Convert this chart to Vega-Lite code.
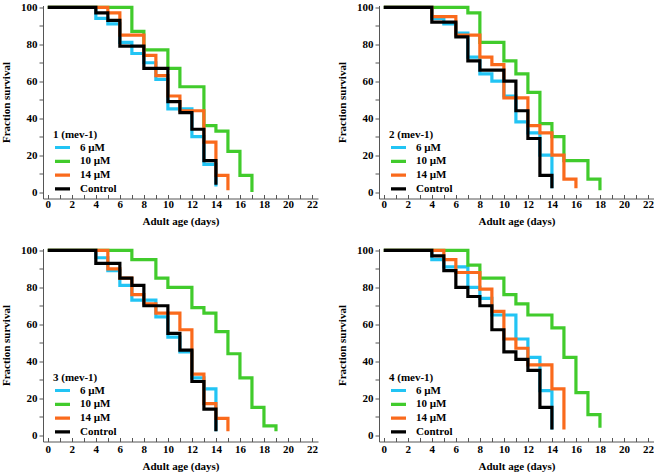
{
  "$schema": "https://vega.github.io/schema/vega-lite/v6.json",
  "padding": {"left": 0, "top": 0.5, "right": 0, "bottom": 0},
  "background": "white",
  "config": {
    "font": "Liberation Serif",
    "view": {"stroke": null},
    "axis": {
      "labelFont": "Liberation Serif", "labelFontWeight": "bold", "labelFontSize": 11, "labelColor": "#000",
      "titleFont": "Liberation Serif", "titleFontWeight": "bold", "titleFontSize": 11, "titleColor": "#000",
      "domainColor": "#555", "tickColor": "#555", "grid": false
    },
    "legend": {
      "labelFont": "Liberation Serif", "labelFontWeight": "bold", "labelFontSize": 11, "labelColor": "#000",
      "titleFont": "Liberation Serif", "titleFontWeight": "bold", "titleFontSize": 11, "titleColor": "#000",
      "symbolType": "stroke", "symbolStrokeWidth": 3.5, "symbolSize": 225, "clipHeight": 11, "rowPadding": 1.8, "titlePadding": 2, "labelOffset": 8,
      "orient": "none", "legendX": 10, "legendY": 123.5
    },
    "line": {"strokeWidth": 3.2, "interpolate": "step-after"}
  },
  "data": {"values": [
    {"p":1,"g":"6 µM","d":0,"s":100},{"p":1,"g":"6 µM","d":4,"s":94},{"p":1,"g":"6 µM","d":5,"s":91},{"p":1,"g":"6 µM","d":6,"s":81},{"p":1,"g":"6 µM","d":7,"s":75},{"p":1,"g":"6 µM","d":8,"s":70},{"p":1,"g":"6 µM","d":9,"s":61},{"p":1,"g":"6 µM","d":10,"s":45},{"p":1,"g":"6 µM","d":12,"s":30},{"p":1,"g":"6 µM","d":13,"s":15},{"p":1,"g":"6 µM","d":14,"s":3},
    {"p":1,"g":"10 µM","d":0,"s":100},{"p":1,"g":"10 µM","d":7,"s":87},{"p":1,"g":"10 µM","d":8,"s":77},{"p":1,"g":"10 µM","d":10,"s":67},{"p":1,"g":"10 µM","d":11,"s":57},{"p":1,"g":"10 µM","d":13,"s":36},{"p":1,"g":"10 µM","d":14,"s":33},{"p":1,"g":"10 µM","d":15,"s":22},{"p":1,"g":"10 µM","d":16,"s":9},{"p":1,"g":"10 µM","d":17,"s":0},
    {"p":1,"g":"14 µM","d":0,"s":100},{"p":1,"g":"14 µM","d":5,"s":97},{"p":1,"g":"14 µM","d":6,"s":85},{"p":1,"g":"14 µM","d":8,"s":74},{"p":1,"g":"14 µM","d":9,"s":63},{"p":1,"g":"14 µM","d":10,"s":52},{"p":1,"g":"14 µM","d":11,"s":44},{"p":1,"g":"14 µM","d":13,"s":27},{"p":1,"g":"14 µM","d":14,"s":9},{"p":1,"g":"14 µM","d":15,"s":1},
    {"p":1,"g":"Control","d":0,"s":100},{"p":1,"g":"Control","d":4,"s":97},{"p":1,"g":"Control","d":5,"s":93},{"p":1,"g":"Control","d":6,"s":79},{"p":1,"g":"Control","d":8,"s":67},{"p":1,"g":"Control","d":10,"s":49},{"p":1,"g":"Control","d":11,"s":43},{"p":1,"g":"Control","d":12,"s":34},{"p":1,"g":"Control","d":13,"s":17},{"p":1,"g":"Control","d":14,"s":4},

    {"p":2,"g":"6 µM","d":0,"s":100},{"p":2,"g":"6 µM","d":4,"s":94},{"p":2,"g":"6 µM","d":5,"s":91},{"p":2,"g":"6 µM","d":6,"s":86},{"p":2,"g":"6 µM","d":7,"s":73},{"p":2,"g":"6 µM","d":8,"s":64},{"p":2,"g":"6 µM","d":9,"s":60},{"p":2,"g":"6 µM","d":10,"s":52},{"p":2,"g":"6 µM","d":11,"s":38},{"p":2,"g":"6 µM","d":12,"s":32},{"p":2,"g":"6 µM","d":13,"s":20},{"p":2,"g":"6 µM","d":14,"s":2},
    {"p":2,"g":"10 µM","d":0,"s":100},{"p":2,"g":"10 µM","d":7,"s":97},{"p":2,"g":"10 µM","d":8,"s":81},{"p":2,"g":"10 µM","d":10,"s":71},{"p":2,"g":"10 µM","d":11,"s":64},{"p":2,"g":"10 µM","d":12,"s":54},{"p":2,"g":"10 µM","d":13,"s":37},{"p":2,"g":"10 µM","d":14,"s":30},{"p":2,"g":"10 µM","d":15,"s":17},{"p":2,"g":"10 µM","d":17,"s":7},{"p":2,"g":"10 µM","d":18,"s":1},
    {"p":2,"g":"14 µM","d":0,"s":100},{"p":2,"g":"14 µM","d":4,"s":95},{"p":2,"g":"14 µM","d":6,"s":85},{"p":2,"g":"14 µM","d":8,"s":73},{"p":2,"g":"14 µM","d":9,"s":69},{"p":2,"g":"14 µM","d":10,"s":51},{"p":2,"g":"14 µM","d":12,"s":36},{"p":2,"g":"14 µM","d":13,"s":32},{"p":2,"g":"14 µM","d":14,"s":20},{"p":2,"g":"14 µM","d":15,"s":7},{"p":2,"g":"14 µM","d":16,"s":2},
    {"p":2,"g":"Control","d":0,"s":100},{"p":2,"g":"Control","d":4,"s":92},{"p":2,"g":"Control","d":6,"s":84},{"p":2,"g":"Control","d":7,"s":71},{"p":2,"g":"Control","d":8,"s":66},{"p":2,"g":"Control","d":10,"s":60},{"p":2,"g":"Control","d":11,"s":44},{"p":2,"g":"Control","d":12,"s":29},{"p":2,"g":"Control","d":13,"s":9},{"p":2,"g":"Control","d":14,"s":2},

    {"p":3,"g":"6 µM","d":0,"s":100},{"p":3,"g":"6 µM","d":4,"s":96},{"p":3,"g":"6 µM","d":5,"s":89},{"p":3,"g":"6 µM","d":6,"s":81},{"p":3,"g":"6 µM","d":7,"s":73},{"p":3,"g":"6 µM","d":9,"s":64},{"p":3,"g":"6 µM","d":10,"s":53},{"p":3,"g":"6 µM","d":11,"s":45},{"p":3,"g":"6 µM","d":12,"s":31},{"p":3,"g":"6 µM","d":13,"s":25},{"p":3,"g":"6 µM","d":14,"s":2},
    {"p":3,"g":"10 µM","d":0,"s":100},{"p":3,"g":"10 µM","d":7,"s":95},{"p":3,"g":"10 µM","d":9,"s":85},{"p":3,"g":"10 µM","d":10,"s":80},{"p":3,"g":"10 µM","d":12,"s":69},{"p":3,"g":"10 µM","d":13,"s":66},{"p":3,"g":"10 µM","d":14,"s":56},{"p":3,"g":"10 µM","d":15,"s":44},{"p":3,"g":"10 µM","d":16,"s":31},{"p":3,"g":"10 µM","d":17,"s":15},{"p":3,"g":"10 µM","d":18,"s":5},{"p":3,"g":"10 µM","d":19,"s":2},
    {"p":3,"g":"14 µM","d":0,"s":100},{"p":3,"g":"14 µM","d":5,"s":90},{"p":3,"g":"14 µM","d":6,"s":85},{"p":3,"g":"14 µM","d":7,"s":76},{"p":3,"g":"14 µM","d":8,"s":71},{"p":3,"g":"14 µM","d":9,"s":66},{"p":3,"g":"14 µM","d":11,"s":57},{"p":3,"g":"14 µM","d":12,"s":33},{"p":3,"g":"14 µM","d":13,"s":17},{"p":3,"g":"14 µM","d":14,"s":9},{"p":3,"g":"14 µM","d":15,"s":2},
    {"p":3,"g":"Control","d":0,"s":100},{"p":3,"g":"Control","d":4,"s":93},{"p":3,"g":"Control","d":6,"s":85},{"p":3,"g":"Control","d":7,"s":81},{"p":3,"g":"Control","d":8,"s":70},{"p":3,"g":"Control","d":10,"s":55},{"p":3,"g":"Control","d":11,"s":46},{"p":3,"g":"Control","d":12,"s":29},{"p":3,"g":"Control","d":13,"s":14},{"p":3,"g":"Control","d":14,"s":2},

    {"p":4,"g":"6 µM","d":0,"s":100},{"p":4,"g":"6 µM","d":4,"s":95},{"p":4,"g":"6 µM","d":5,"s":91},{"p":4,"g":"6 µM","d":7,"s":80},{"p":4,"g":"6 µM","d":8,"s":74},{"p":4,"g":"6 µM","d":9,"s":65},{"p":4,"g":"6 µM","d":11,"s":52},{"p":4,"g":"6 µM","d":12,"s":42},{"p":4,"g":"6 µM","d":13,"s":24},{"p":4,"g":"6 µM","d":14,"s":3},
    {"p":4,"g":"10 µM","d":0,"s":100},{"p":4,"g":"10 µM","d":7,"s":92},{"p":4,"g":"10 µM","d":8,"s":85},{"p":4,"g":"10 µM","d":10,"s":76},{"p":4,"g":"10 µM","d":11,"s":71},{"p":4,"g":"10 µM","d":12,"s":65},{"p":4,"g":"10 µM","d":14,"s":58},{"p":4,"g":"10 µM","d":15,"s":42},{"p":4,"g":"10 µM","d":16,"s":23},{"p":4,"g":"10 µM","d":17,"s":11},{"p":4,"g":"10 µM","d":18,"s":4},
    {"p":4,"g":"14 µM","d":0,"s":100},{"p":4,"g":"14 µM","d":5,"s":95},{"p":4,"g":"14 µM","d":6,"s":88},{"p":4,"g":"14 µM","d":8,"s":79},{"p":4,"g":"14 µM","d":9,"s":67},{"p":4,"g":"14 µM","d":10,"s":52},{"p":4,"g":"14 µM","d":11,"s":47},{"p":4,"g":"14 µM","d":12,"s":38},{"p":4,"g":"14 µM","d":14,"s":25},{"p":4,"g":"14 µM","d":15,"s":3},
    {"p":4,"g":"Control","d":0,"s":100},{"p":4,"g":"Control","d":4,"s":97},{"p":4,"g":"Control","d":5,"s":89},{"p":4,"g":"Control","d":6,"s":80},{"p":4,"g":"Control","d":7,"s":75},{"p":4,"g":"Control","d":8,"s":70},{"p":4,"g":"Control","d":9,"s":57},{"p":4,"g":"Control","d":10,"s":45},{"p":4,"g":"Control","d":11,"s":41},{"p":4,"g":"Control","d":12,"s":35},{"p":4,"g":"Control","d":13,"s":15},{"p":4,"g":"Control","d":14,"s":3}
  ]},
  "columns": 2,
  "spacing": {"row": 17, "column": 18},
  "resolve": {"scale": {"color": "independent"}, "legend": {"color": "independent"}},
  "concat": [
    {"width": 275, "height": 193, "transform": [{"filter": "datum.p == 1"}], "mark": "line",
     "encoding": {
       "x": {"field": "d", "type": "quantitative", "scale": {"domain": [-0.4, 22.5], "nice": false, "zero": false}, "axis": {"title": "Adult age (days)", "values": [0,1,2,3,4,5,6,7,8,9,10,11,12,13,14,15,16,17,18,19,20,21,22], "labelExpr": "datum.value % 2 == 0 ? datum.label : ''", "tickSize": -4, "labelPadding": 4, "titlePadding": 6, "labelFlush": false}},
       "y": {"field": "s", "type": "quantitative", "scale": {"domain": [-3.5, 101], "nice": false, "zero": false}, "axis": {"title": "Fraction survival", "values": [0,10,20,30,40,50,60,70,80,90,100], "labelExpr": "datum.value % 20 == 0 ? datum.label : ''", "tickSize": 4, "labelPadding": 2, "titlePadding": 9, "labelFlush": false}},
       "color": {"field": "g", "type": "nominal", "sort": ["6 µM","10 µM","14 µM","Control"], "scale": {"domain": ["6 µM","10 µM","14 µM","Control"], "range": ["#22c4f4","#41cb2c","#fa6a1c","#000000"]}, "legend": {"title": "1 (mev-1)"}}
     }},
    {"width": 275, "height": 193, "transform": [{"filter": "datum.p == 2"}], "mark": "line",
     "encoding": {
       "x": {"field": "d", "type": "quantitative", "scale": {"domain": [-0.4, 22.5], "nice": false, "zero": false}, "axis": {"title": "Adult age (days)", "values": [0,1,2,3,4,5,6,7,8,9,10,11,12,13,14,15,16,17,18,19,20,21,22], "labelExpr": "datum.value % 2 == 0 ? datum.label : ''", "tickSize": -4, "labelPadding": 4, "titlePadding": 6, "labelFlush": false}},
       "y": {"field": "s", "type": "quantitative", "scale": {"domain": [-3.5, 101], "nice": false, "zero": false}, "axis": {"title": "Fraction survival", "values": [0,10,20,30,40,50,60,70,80,90,100], "labelExpr": "datum.value % 20 == 0 ? datum.label : ''", "tickSize": 4, "labelPadding": 2, "titlePadding": 9, "labelFlush": false}},
       "color": {"field": "g", "type": "nominal", "sort": ["6 µM","10 µM","14 µM","Control"], "scale": {"domain": ["6 µM","10 µM","14 µM","Control"], "range": ["#22c4f4","#41cb2c","#fa6a1c","#000000"]}, "legend": {"title": "2 (mev-1)"}}
     }},
    {"width": 275, "height": 193, "transform": [{"filter": "datum.p == 3"}], "mark": "line",
     "encoding": {
       "x": {"field": "d", "type": "quantitative", "scale": {"domain": [-0.4, 22.5], "nice": false, "zero": false}, "axis": {"title": "Adult age (days)", "values": [0,1,2,3,4,5,6,7,8,9,10,11,12,13,14,15,16,17,18,19,20,21,22], "labelExpr": "datum.value % 2 == 0 ? datum.label : ''", "tickSize": -4, "labelPadding": 6, "titlePadding": 6, "labelFlush": false}},
       "y": {"field": "s", "type": "quantitative", "scale": {"domain": [-3.5, 101], "nice": false, "zero": false}, "axis": {"title": "Fraction survival", "values": [0,10,20,30,40,50,60,70,80,90,100], "labelExpr": "datum.value % 20 == 0 ? datum.label : ''", "tickSize": 4, "labelPadding": 2, "titlePadding": 9, "labelFlush": false}},
       "color": {"field": "g", "type": "nominal", "sort": ["6 µM","10 µM","14 µM","Control"], "scale": {"domain": ["6 µM","10 µM","14 µM","Control"], "range": ["#22c4f4","#41cb2c","#fa6a1c","#000000"]}, "legend": {"title": "3 (mev-1)"}}
     }},
    {"width": 275, "height": 193, "transform": [{"filter": "datum.p == 4"}], "mark": "line",
     "encoding": {
       "x": {"field": "d", "type": "quantitative", "scale": {"domain": [-0.4, 22.5], "nice": false, "zero": false}, "axis": {"title": "Adult age (days)", "values": [0,1,2,3,4,5,6,7,8,9,10,11,12,13,14,15,16,17,18,19,20,21,22], "labelExpr": "datum.value % 2 == 0 ? datum.label : ''", "tickSize": -4, "labelPadding": 6, "titlePadding": 6, "labelFlush": false}},
       "y": {"field": "s", "type": "quantitative", "scale": {"domain": [-3.5, 101], "nice": false, "zero": false}, "axis": {"title": "Fraction survival", "values": [0,10,20,30,40,50,60,70,80,90,100], "labelExpr": "datum.value % 20 == 0 ? datum.label : ''", "tickSize": 4, "labelPadding": 2, "titlePadding": 9, "labelFlush": false}},
       "color": {"field": "g", "type": "nominal", "sort": ["6 µM","10 µM","14 µM","Control"], "scale": {"domain": ["6 µM","10 µM","14 µM","Control"], "range": ["#22c4f4","#41cb2c","#fa6a1c","#000000"]}, "legend": {"title": "4 (mev-1)"}}
     }}
  ]
}
